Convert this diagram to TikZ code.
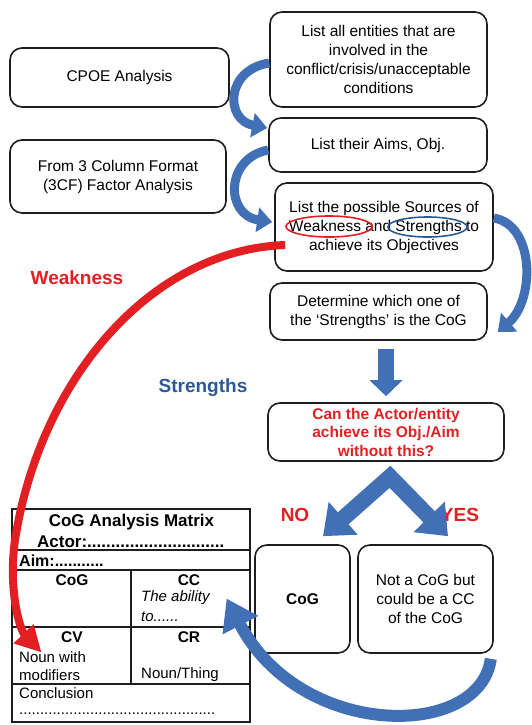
\documentclass[tikz,border=0pt]{standalone}
\usepackage{fontspec}
\setmainfont{Liberation Sans}
\usetikzlibrary{arrows.meta,shapes.geometric,calc}

\definecolor{flowblue}{RGB}{66,112,182}
\definecolor{labelblue}{RGB}{44,90,150}
\definecolor{alertred}{RGB}{226,32,36}
\definecolor{edge}{RGB}{30,30,30}

\tikzset{
  stepbox/.style={draw=edge, line width=1.6pt, rounded corners=12pt, align=center,
    inner sep=0pt, font=\fontsize{15.5}{19}\selectfont},
  cellbox/.style={draw=edge, line width=1.2pt, inner sep=0pt},
  celltext/.style={inner sep=0pt, font=\fontsize{15}{18}\selectfont},
  cellhead/.style={inner sep=0pt, font=\bfseries\fontsize{15.5}{18}\selectfont},
  biglabel/.style={inner sep=0pt, font=\bfseries\fontsize{19}{22}\selectfont},
  bendarrow/.style={draw=flowblue, line width=9pt,
    -{Triangle[width=24pt,length=15pt]}},
  blockarrow/.style={draw=flowblue, line width=16pt,
    -{Triangle[width=32pt,length=16pt]}},
  forkarrow/.style={draw=flowblue, line width=16pt, line join=miter,
    {Triangle[width=42pt,length=27pt]}-{Triangle[width=42pt,length=27pt]}},
  loopback/.style={draw=flowblue, line width=12pt,
    -{Triangle[width=38pt,length=30pt]}},
  weakarrow/.style={draw=alertred, line width=8pt,
    -{Triangle[width=26pt,length=26pt]}},
  ring/.style={draw, ellipse, line width=1.6pt, inner sep=0pt}
}

\begin{document}
\begin{tikzpicture}[x=1pt,y=-1pt]
\fill[white] (0,0) rectangle (531,725);
\useasboundingbox (0,0) rectangle (531,725);

% ---- flow boxes
\node[stepbox, minimum width=217pt, minimum height=95pt] (ent) at (378.5,59.5)
  {List all entities that are\\involved in the\\conflict/crisis/unacceptable\\conditions};
\node[stepbox, minimum width=219pt, minimum height=59pt] (cpoe) at (119.5,77.5)
  {CPOE Analysis};
\node[stepbox, minimum width=218pt, minimum height=54pt] (aims) at (378,145)
  {List their Aims, Obj.};
\node[stepbox, minimum width=216pt, minimum height=73pt] (tcf) at (118,176.5)
  {From 3 Column Format\\(3CF) Factor Analysis};
\node[stepbox, minimum width=218pt, minimum height=88pt] (src) at (384,227)
  {List the possible Sources of\\Weakness and Strengths to\\achieve its Objectives};
\node[stepbox, minimum width=217pt, minimum height=57pt] (det) at (378.5,311.5)
  {Determine which one of\\the ‘Strengths’ is the CoG};
\node[stepbox, minimum width=236pt, minimum height=58pt, text=alertred,
  font=\bfseries\fontsize{15.5}{18.5}\selectfont] (ask) at (386,432)
  {Can the Actor/entity\\achieve its Obj./Aim\\without this?};
\node[stepbox, minimum width=95pt, minimum height=108pt,
  font=\bfseries\fontsize{15.5}{19}\selectfont] (cog) at (302.5,599) {CoG};
\node[stepbox, minimum width=135pt, minimum height=108pt] (ncog) at (425.5,599)
  {Not a CoG but\\could be a CC\\of the CoG};

% ---- rings around the two key words
\node[ring, draw=alertred, minimum width=86pt, minimum height=21pt] (wring) at (329,226.5) {};
\node[ring, draw=labelblue, minimum width=79pt, minimum height=20pt] (sring) at (427.5,227) {};

% ---- CoG analysis matrix
\node[cellbox, minimum width=238pt, minimum height=41pt] (mtop) at (131,529.5) {};
\node[cellbox, minimum width=238pt, minimum height=20pt] (maim) at (131,560) {};
\node[cellbox, minimum width=119pt, minimum height=57pt] (cogc) at (71.5,598.5) {};
\node[cellbox, minimum width=119pt, minimum height=57pt] (cc) at (190.5,598.5) {};
\node[cellbox, minimum width=119pt, minimum height=57pt] (cv) at (71.5,655.5) {};
\node[cellbox, minimum width=119pt, minimum height=57pt] (cr) at (190.5,655.5) {};
\node[cellbox, minimum width=238pt, minimum height=38pt] (conc) at (131,703) {};

\node[cellhead, font=\bfseries\fontsize{17}{20}\selectfont] (mtitle) at (131.5,522) {CoG Analysis Matrix};
\node[cellhead, font=\bfseries\fontsize{17}{20}\selectfont, anchor=west] (mactor) at (37,542)
  {Actor:.............................};
\node[cellhead, font=\bfseries\fontsize{16}{20}\selectfont, anchor=west] (maimt) at (19,561) {Aim:...........};
\node[cellhead] (cogh) at (72,580) {CoG};
\node[cellhead] (cch) at (189,580) {CC};
\node[celltext, font=\itshape\fontsize{15}{18}\selectfont, anchor=west] (abil) at (141,598) {The ability};
\node[celltext, font=\itshape\fontsize{15}{18}\selectfont, anchor=west] (abto) at (141,617) {to......};
\node[cellhead] (cvh) at (72,637) {CV};
\node[cellhead] (crh) at (189,637) {CR};
\node[celltext, anchor=west] (cvt1) at (19,657) {Noun with};
\node[celltext, anchor=west] (cvt2) at (19,675) {modifiers};
\node[celltext, anchor=west] (crt) at (141,675) {Noun/Thing};
\node[celltext, anchor=west] (conct) at (19,693) {Conclusion};
\node[celltext, anchor=west] (concd) at (19,714) {...............................................};

% ---- side labels
\node[biglabel, text=alertred] (wlab) at (77,278) {Weakness};
\node[biglabel, text=labelblue] (slab) at (203,388) {Strengths};
\node[biglabel, text=alertred] (nolab) at (295,515) {NO};
\node[biglabel, text=alertred] (yeslab) at (460,515) {YES};

% ---- connectors
\draw[bendarrow] ([yshift=-3.5pt]ent.west) .. controls (225,70) and (225,120)
  .. ([yshift=17pt,xshift=-1pt]aims.west);
\draw[bendarrow] ([yshift=-5pt]aims.west) .. controls (225,158) and (225,215)
  .. ([yshift=5pt,xshift=-2pt]src.west);
\draw[bendarrow] ([yshift=9pt]src.east) .. controls (535,225) and (535,300)
  .. ([xshift=10pt,yshift=-20.5pt]det.east);

\draw[blockarrow] ($(det.south -| ask.north)+(0,8)$) -- ($(ask.north)+(0,-6)$);

\coordinate (apex) at ($(ask.south)+(4,15)$);
\draw[forkarrow] ($(cog.north)+(20.5,-8)$) -- (apex) -- ($(ncog.north)+(22.5,-8)$);

\draw[loopback] ($(ncog.south east)+(-3,5)$) .. controls (480,740) and (300,740)
  .. ($(cc.east)+(-24,0)$);

\draw[weakarrow] ($(src.west)+(11,18)$) .. controls (150,250) and (40,380) .. (15,540)
  .. controls (8,590) and (20,630) .. ($(cv.center)+(-30,-3)$);
\end{tikzpicture}
\end{document}
